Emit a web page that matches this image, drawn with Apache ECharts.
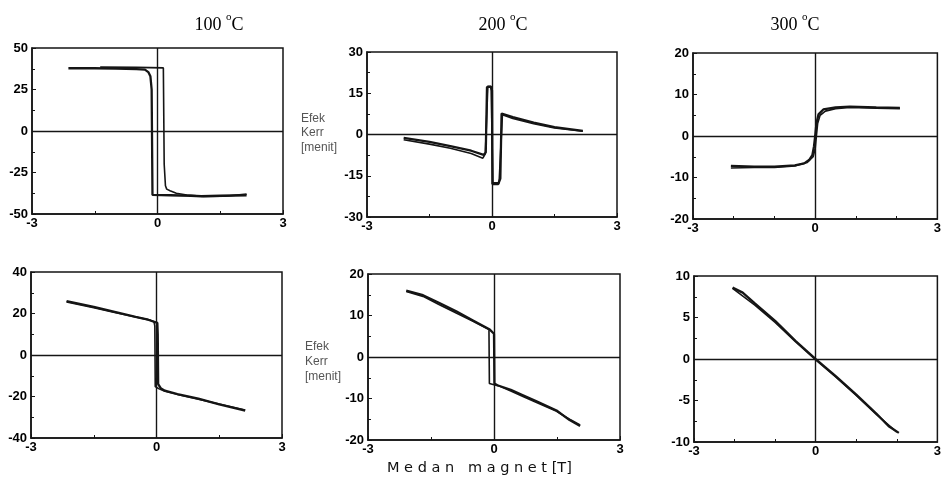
<!DOCTYPE html>
<html>
<head>
<meta charset="utf-8">
<script src="https://cdn.jsdelivr.net/npm/echarts@6/dist/echarts.min.js"></script>
<style>html,body{margin:0;padding:0;background:#fff}#c{width:944px;height:481px}</style>
</head>
<body>
<div id="c"></div>
<script>
// ---- Titles / labels ----
const temps = ['100', '200', '300'];
const yLabelText = 'Efek\nKerr\n[menit]';
const xLabelText = 'M e d a n   m a g n e t [T]';

// ---- Axis ranges: [min, max, interval] ----
const yRanges = [[-50, 50, 25], [-30, 30, 15], [-20, 20, 10], [-40, 40, 20], [-20, 20, 10], [-10, 10, 5]];
const xRange = [-3, 3, 3];
const xMinorSplits = [2, 2, 3, 2, 2, 3];

// ---- Panel 1: 100 C (top) ----
const p1aX = [-2.13, -1.5, -1.0, -0.5, -0.3, -0.22, -0.17, -0.14, -0.12, 0.3, 0.8, 1.05, 1.5, 2.13];
const p1aY = [37.8, 37.8, 37.6, 37.3, 37.0, 35.5, 33.0, 25.0, -38.5, -38.7, -39.0, -39.3, -39.0, -38.7];
const p1bX = [2.13, 1.6, 1.1, 0.7, 0.45, 0.3, 0.22, 0.19, 0.16, 0.14, -0.5, -1.37];
const p1bY = [-38.0, -39.3, -39.4, -38.6, -37.5, -36.0, -35.0, -33.0, -20.0, 38.0, 38.3, 38.5];

// ---- Panel 2: 200 C (top) ----
const p2aX = [-2.12, -1.5, -1.0, -0.5, -0.2, -0.15, -0.12, -0.03, 0.0, 0.01, 0.15, 0.2, 0.23, 0.5, 1.0, 1.5, 2.18];
const p2aY = [-1.2, -2.7, -4.2, -5.9, -7.4, -6.5, 17.3, 17.3, 16.0, -18.0, -18.0, -16.0, 7.6, 6.3, 4.3, 2.7, 1.3];
const p2bX = [-2.12, -1.5, -1.0, -0.5, -0.22, -0.16, -0.1, -0.02, 0.02, 0.17, 0.25, 0.5, 1.0, 1.5, 2.18];
const p2bY = [-1.9, -3.5, -5.0, -6.9, -8.6, -7.0, 17.5, 17.5, -17.6, -17.6, 7.2, 5.8, 3.9, 2.4, 1.2];

// ---- Panel 3: 300 C (top) ----
const p3aX = [-2.07, -1.5, -1.0, -0.5, -0.27, -0.15, -0.07, -0.03, 0.0, 0.03, 0.08, 0.2, 0.5, 0.85, 1.5, 2.08];
const p3aY = [-7.2, -7.4, -7.4, -7.1, -6.6, -5.8, -4.6, -2.5, 0.0, 3.0, 5.2, 6.4, 6.9, 7.1, 6.9, 6.8];
const p3bX = [2.08, 1.5, 0.85, 0.5, 0.25, 0.12, 0.06, 0.03, 0.0, -0.05, -0.2, -0.5, -1.0, -1.5, -2.07];
const p3bY = [6.6, 6.7, 6.9, 6.6, 6.0, 5.0, 3.0, 0.0, -3.0, -5.0, -6.4, -7.2, -7.6, -7.6, -7.7];

// ---- Panel 4: 100 C (bottom) ----
const p4aX = [2.12, 1.5, 1.0, 0.5, 0.2, 0.1, 0.04, 0.03, 0.02, -0.2, -0.5, -1.0, -1.5, -2.15];
const p4aY = [-26.8, -23.8, -21.0, -18.8, -17.2, -16.0, -14.0, 10.0, 15.5, 17.0, 18.4, 20.8, 23.2, 26.0];
const p4bX = [-2.15, -1.5, -1.0, -0.5, -0.15, -0.06, -0.04, -0.03, 0.05, 0.2, 0.5, 1.0, 1.5, 2.12];
const p4bY = [25.6, 22.8, 20.5, 18.3, 16.8, 16.0, 14.0, -15.2, -16.2, -17.5, -19.0, -21.3, -23.6, -26.5];

// ---- Panel 5: 200 C (bottom) ----
const p5aX = [2.05, 1.8, 1.49, 1.0, 0.69, 0.4, 0.08, 0.01, 0.0, -0.1, -0.5, -0.9, -1.3, -1.69, -2.09];
const p5aY = [-16.6, -15.2, -12.9, -10.6, -9.2, -7.9, -6.8, -6.4, 5.6, 6.6, 8.8, 11.0, 13.0, 14.9, 16.0];
const p5bX = [-2.09, -1.69, -1.3, -0.9, -0.5, -0.12, -0.11, 0.0, 0.1, 0.4, 0.69, 1.0, 1.49, 1.8, 2.05];
const p5bY = [15.8, 14.6, 12.6, 10.6, 8.6, 6.6, -6.4, -6.7, -6.9, -8.2, -9.5, -10.9, -13.1, -15.0, -16.4];

// ---- Panel 6: 300 C (bottom) ----
const p6aX = [-2.05, -1.8, -1.5, -1.0, -0.5, 0.0, 0.5, 1.0, 1.5, 1.8, 2.05];
const p6aY = [8.6, 8.0, 6.7, 4.6, 2.2, 0.0, -2.1, -4.3, -6.6, -8.1, -8.9];
const p6bX = [-2.05, -1.5, -1.0, -0.5, 0.0, 0.5, 1.0, 1.5, 2.0];
const p6bY = [8.5, 6.5, 4.4, 2.1, -0.1, -2.2, -4.4, -6.7, -8.8];

const seriesSets = [
  [[p1aX, p1aY], [p1bX, p1bY]],
  [[p2aX, p2aY], [p2bX, p2bY]],
  [[p3aX, p3aY], [p3bX, p3bY]],
  [[p4aX, p4aY], [p4bX, p4bY]],
  [[p5aX, p5aY], [p5bX, p5bY]],
  [[p6aX, p6aY], [p6bX, p6bY]]
];

// grid boxes (layout)
const grids = [
  {left: 32, top: 48, width: 251, height: 166},
  {left: 367, top: 52, width: 250, height: 165},
  {left: 693, top: 53, width: 249, height: 166},
  {left: 31, top: 272, width: 251, height: 166},
  {left: 368, top: 274, width: 252, height: 166},
  {left: 694, top: 276, width: 249, height: 166}
];

const zip = (xs, ys) => xs.map((x, i) => [x, ys[i]]);
const ink = '#151515';
const tickFont = {color: '#000', fontFamily: 'Liberation Sans, Arial, sans-serif', fontWeight: 'bold', fontSize: 13};
const serif = 'Liberation Serif, Times New Roman, serif';

const option = {
  backgroundColor: '#fff',
  animation: false,
  title: temps.map((t, i) => ({
    text: '{n|' + t + ' }{s|o}{n|C}',
    left: [214, 498, 790][i],
    top: 7,
    textAlign: 'center',
    textStyle: {
      fontWeight: 'normal',
      rich: {
        n: {fontFamily: serif, fontWeight: 'normal', fontSize: 18, color: '#000', verticalAlign: 'bottom', lineHeight: 22},
        s: {fontFamily: serif, fontWeight: 'normal', fontSize: 11, color: '#000', verticalAlign: 'top', lineHeight: 22, padding: [0, 0, 8, 0]}
      }
    }
  })),
  grid: grids.map(g => Object.assign({show: true, borderColor: ink, borderWidth: 1.5, backgroundColor: 'transparent'}, g)),
  xAxis: grids.map((g, i) => ({
    type: 'value', gridIndex: i, min: xRange[0], max: xRange[1], interval: xRange[2],
    axisLine: {show: true, onZero: false, lineStyle: {color: ink, width: 1.5}},
    axisTick: {show: true, inside: true, length: 4, lineStyle: {color: ink}},
    minorTick: {show: true, splitNumber: xMinorSplits[i], length: 3, lineStyle: {color: ink}},
    splitLine: {show: false},
    axisLabel: Object.assign({margin: 3, showMinLabel: true, showMaxLabel: true}, tickFont)
  })),
  yAxis: grids.map((g, i) => ({
    type: 'value', gridIndex: i, min: yRanges[i][0], max: yRanges[i][1], interval: yRanges[i][2],
    axisLine: {show: true, onZero: false, lineStyle: {color: ink, width: 1.5}},
    axisTick: {show: true, inside: true, length: 4, lineStyle: {color: ink}},
    minorTick: {show: true, splitNumber: 2, length: 3, lineStyle: {color: ink}},
    splitLine: {show: false},
    axisLabel: Object.assign({margin: 4, showMinLabel: true, showMaxLabel: true}, tickFont)
  })),
  series: [],
  graphic: [
    {type: 'text', left: 301, top: 111, style: {text: yLabelText, fill: '#555', font: '12px Liberation Sans, Arial, sans-serif', lineHeight: 14.5}},
    {type: 'text', left: 305, top: 339, style: {text: yLabelText, fill: '#555', font: '12px Liberation Sans, Arial, sans-serif', lineHeight: 15}},
    {type: 'text', left: 387, top: 461, style: {text: xLabelText, fill: '#111', font: '14.5px DejaVu Sans, sans-serif'}}
  ]
};

seriesSets.forEach((set, i) => {
  set.forEach((pair, k) => {
    const s = {
      type: 'line', xAxisIndex: i, yAxisIndex: i, data: zip(pair[0], pair[1]),
      showSymbol: false, symbol: 'none', smooth: false,
      lineStyle: {color: ink, width: k === 0 ? 2.3 : 1.6}, silent: true
    };
    if (k === 0) {
      s.markLine = {
        silent: true, symbol: 'none', label: {show: false},
        lineStyle: {color: ink, width: 1.4, type: 'solid'},
        data: [{xAxis: 0}, {yAxis: 0}]
      };
    }
    option.series.push(s);
  });
});

const chart = echarts.init(document.getElementById('c'), null, {renderer: 'canvas'});
chart.setOption(option);
</script>
</body>
</html>
